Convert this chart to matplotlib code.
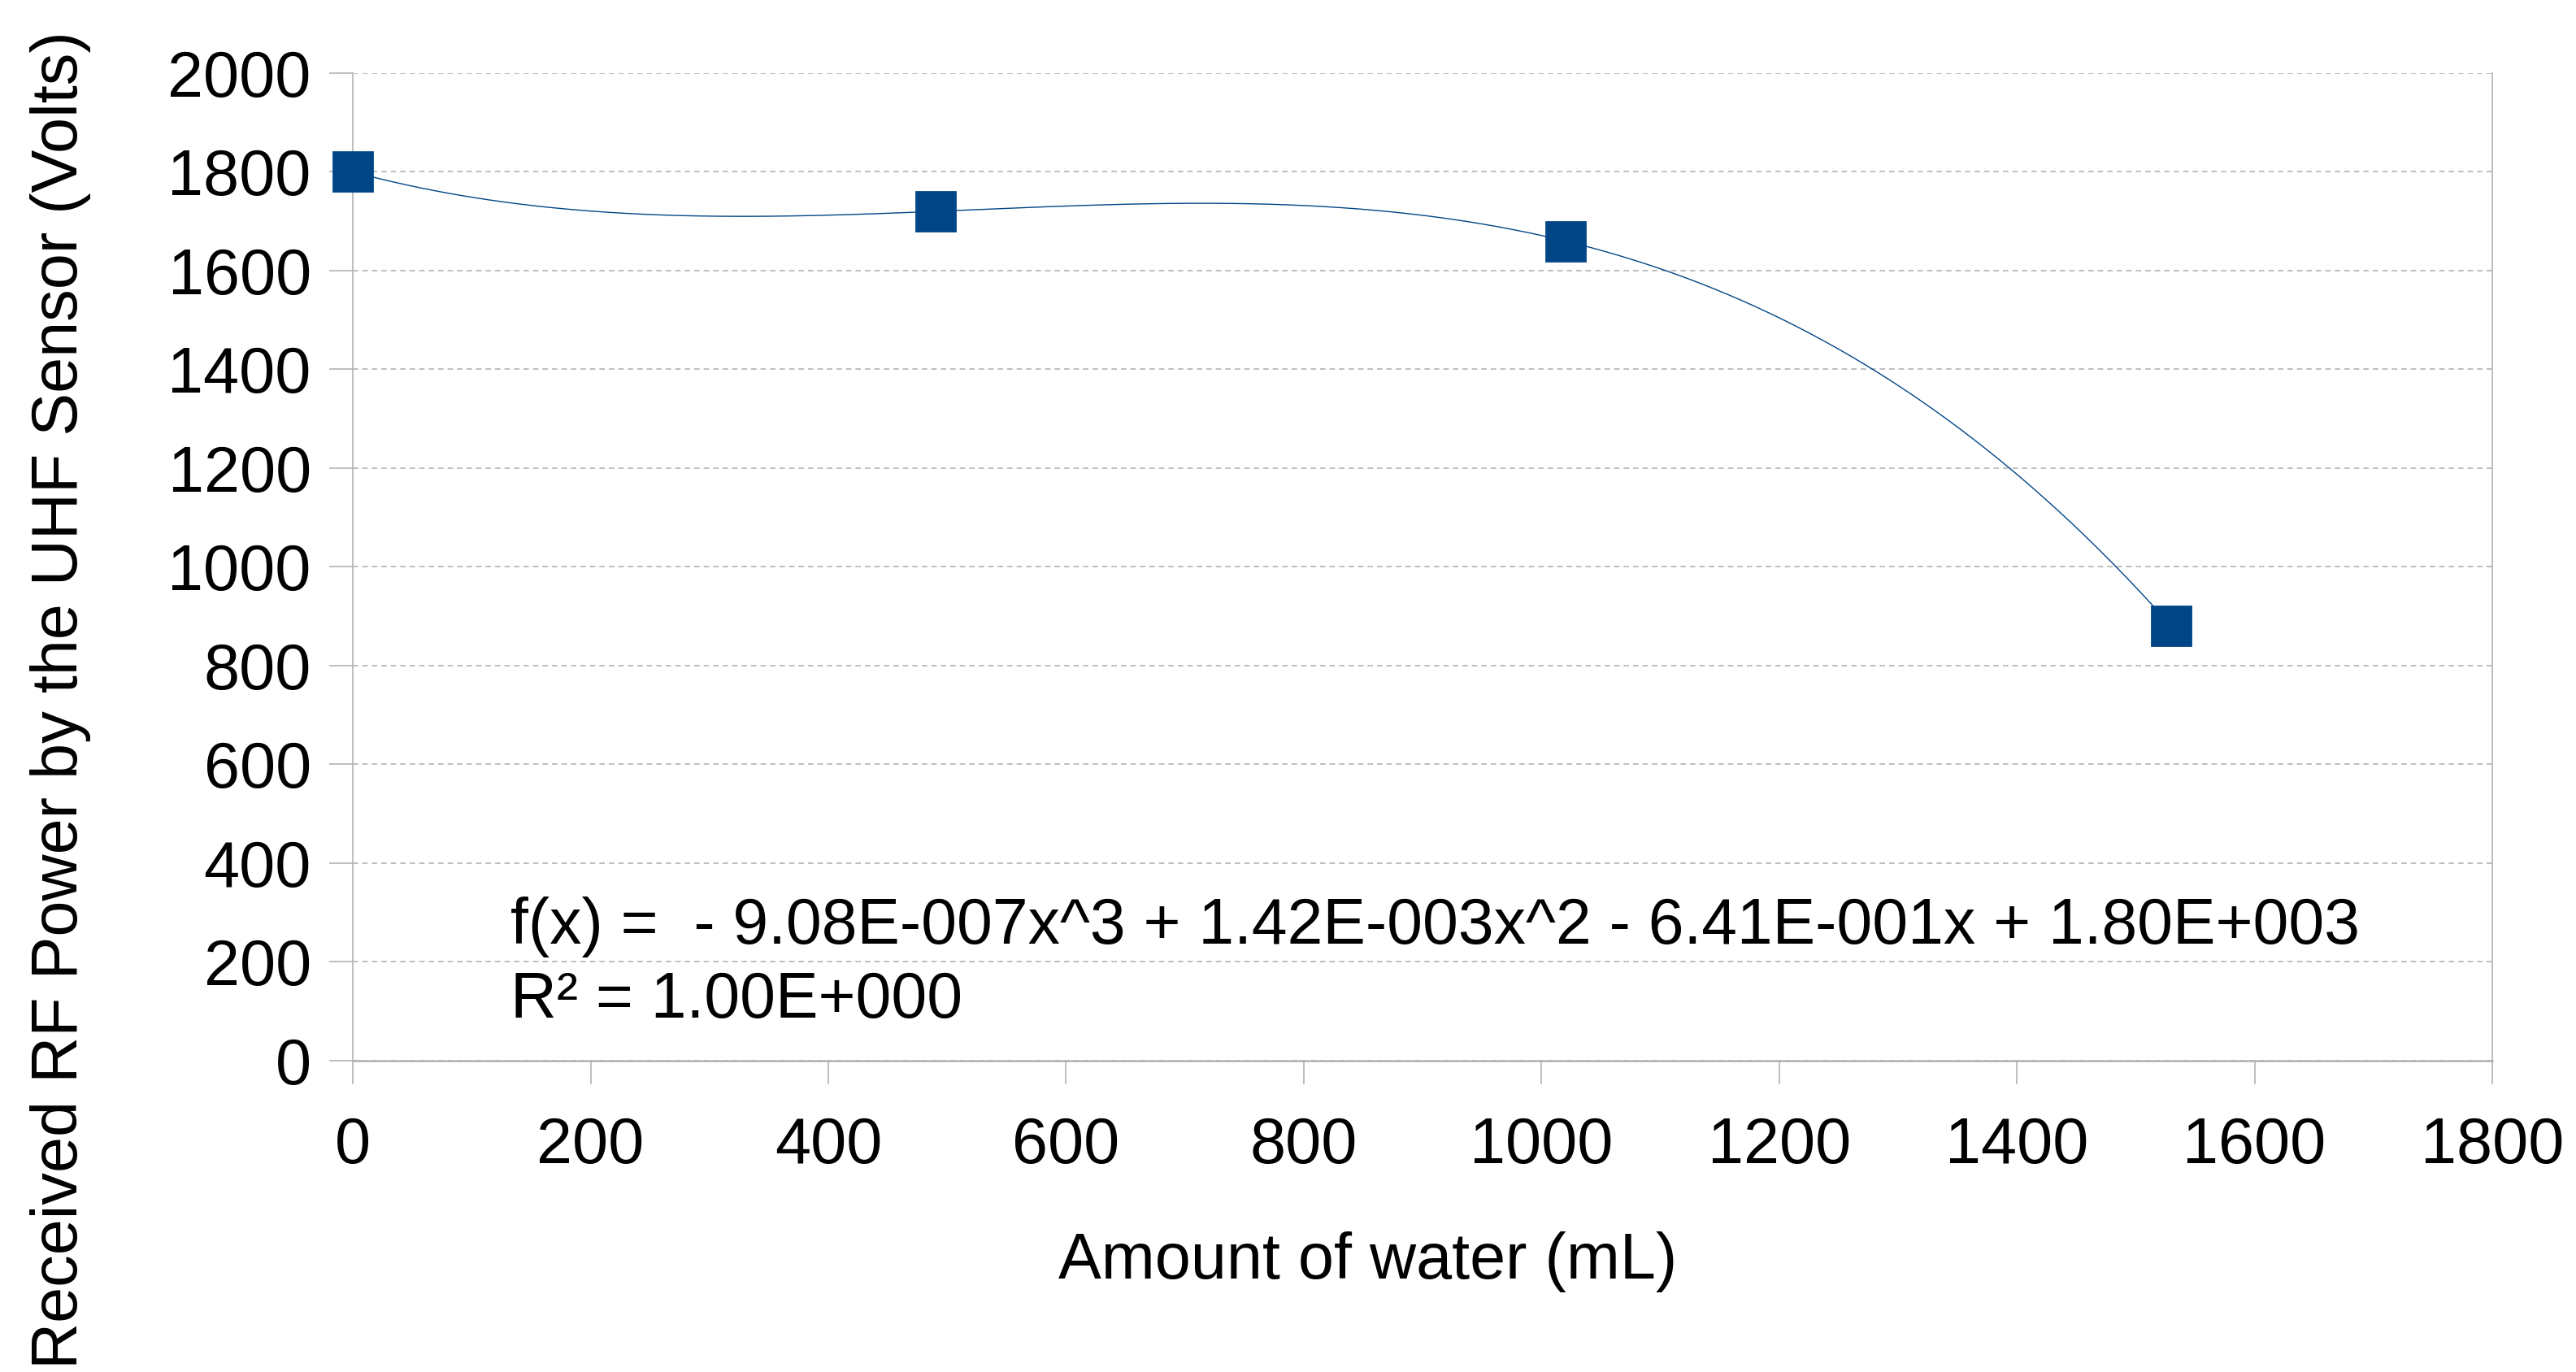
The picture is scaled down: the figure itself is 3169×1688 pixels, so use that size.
import numpy as np
import matplotlib.pyplot as plt

water_ml = [0, 490, 1020, 1530]
received_power = [1800, 1720, 1660, 880]

x_ticks = [0, 200, 400, 600, 800, 1000, 1200, 1400, 1600, 1800]
y_ticks = [0, 200, 400, 600, 800, 1000, 1200, 1400, 1600, 1800, 2000]

equation_text = 'f(x) =  - 9.08E-007x^3 + 1.42E-003x^2 - 6.41E-001x + 1.80E+003\nR² = 1.00E+000'

plt.rcParams['font.family'] = ['Liberation Sans', 'DejaVu Sans']

blue = '#004586'
grey = '#b3b3b3'
fs = 28.5

fig = plt.figure(figsize=(15.845, 8.44), dpi=200)
ax = fig.add_axes([0.137, 0.2269, 0.8305, 0.7198])

# cubic trend line through the points
coef = np.polyfit(water_ml, received_power, 3)
xs = np.linspace(min(water_ml), max(water_ml), 400)
ax.plot(xs, np.polyval(coef, xs), color=blue, linewidth=0.5, zorder=3)

ax.plot(water_ml, received_power, linestyle='none', marker='s', markersize=17,
        color=blue, zorder=4, clip_on=False)

ax.set_xlim(0, 1800)
ax.set_ylim(0, 2000)
ax.set_xticks(x_ticks)
ax.set_yticks(y_ticks)
ax.tick_params(axis='both', labelsize=fs, length=10.5, width=0.6, color=grey)
ax.tick_params(axis='x', pad=14)
ax.tick_params(axis='y', pad=8)

ax.yaxis.grid(True, color=grey, linestyle=(0, (4, 3)), linewidth=0.6)
ax.set_axisbelow(True)

ax.spines['top'].set_visible(False)
for s in ['left', 'right', 'bottom']:
    ax.spines[s].set_color(grey)
    ax.spines[s].set_linewidth(0.6)
ax.spines['bottom'].set_linewidth(0.9)

ax.text(0.0735, 0.166, equation_text, transform=ax.transAxes, fontsize=fs * 0.993,
        va='top', ha='left', linespacing=1.27)

fig.text(0.531, 0.08, 'Amount of water (mL)', fontsize=fs, ha='center', va='center')
fig.text(0.0235, 0.49, 'Received RF Power by the UHF Sensor (Volts)', fontsize=fs,
         ha='center', va='center', rotation=90)

fig.savefig('out.png', dpi=200)
